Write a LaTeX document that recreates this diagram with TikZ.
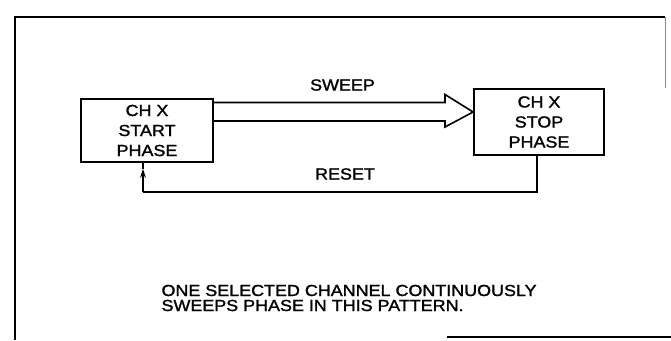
\documentclass[tikz,border=0pt]{standalone}
\usepackage{fontspec}
\newfontfamily\lblfont[FakeStretch=1.12,FakeBold=1.5]{Liberation Sans}
\usetikzlibrary{calc,arrows.meta}
\begin{document}
\begin{tikzpicture}[x=1pt,y=1pt,
  every node/.style={font=\lblfont\fontsize{16}{20}\selectfont},
  phasebox/.style={draw,line width=1.8pt,inner sep=0pt,align=center},
  wire/.style={line width=1.6pt},
  frameline/.style={line width=2.2pt}]
\useasboundingbox (0,0) rectangle (671,340);
% frame
\draw[frameline] (15,0) -- (15,323) -- (665,323);
\draw[line width=0.8pt,black!45] (665,323) -- (665,252);
\draw[frameline] (447,3) -- (671,3);
% boxes
\node[phasebox,minimum width=132pt,minimum height=63pt] (start) at (147,209.5) {CH X\\START\\PHASE};
\node[phasebox,minimum width=130pt,minimum height=66pt] (stop) at (539,218) {CH X\\STOP\\PHASE};
% hollow sweep arrow
\coordinate (aup) at ($(start.east)+(0,28)$);
\coordinate (alo) at ($(start.east)+(0,9.5)$);
\coordinate (tip) at ($(stop.west)+(0,10)$);
\draw[wire,line join=miter] (aup) -- (aup -| 445,0) -- ++(0,8) -- (tip) -- ($(alo -| 445,0)+(0,-6)$) -- (alo -| 445,0) -- (alo);
\node (sweep) at (342.5,255) {SWEEP};
% reset return path
\coordinate (rfrom) at ($(stop.south)+(-2,0)$);
\coordinate (rdown) at ($(stop.south)+(-2,-36)$);
\coordinate (rto) at ($(start.south)+(-4,0)$);
\coordinate (rtip) at ($(start.south)+(-4,-6)$);
\draw[wire] (rfrom) -- (rdown) -- (rdown -| rtip) coordinate (rcorner);
\draw[wire,-{Stealth[length=9pt,width=6pt]}] (rcorner) -- (rtip);
\draw[wire] (rtip) -- (rto);
\node (reset) at (345,166) {RESET};
% caption
\node[anchor=base west,align=left,font=\lblfont\fontsize{16}{15}\selectfont] (cap) at (158,29) {ONE SELECTED CHANNEL CONTINUOUSLY\\SWEEPS PHASE IN THIS PATTERN.};
\end{tikzpicture}
\end{document}
